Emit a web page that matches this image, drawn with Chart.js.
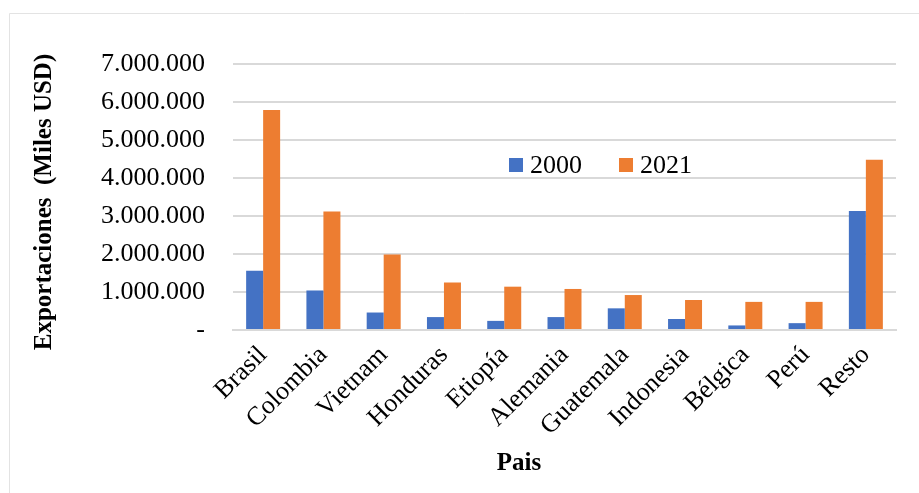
<!DOCTYPE html>
<html>
<head>
<meta charset="utf-8">
<script src="https://cdn.jsdelivr.net/npm/chart.js@4/dist/chart.umd.min.js"></script>
<style>
	body { margin: 0; background: #ffffff; }
	#wrap { position: relative; width: 919px; height: 493px; }
</style>
</head>
<body>
<div id="wrap"><canvas id="barras" width="919" height="493"></canvas></div>
<script>
// datos (Miles USD)
var paises = ["Brasil", "Colombia", "Vietnam", "Honduras", "Etiopía", "Alemania", "Guatemala", "Indonesia", "Bélgica", "Perú", "Resto"];
var valores2000 = [1560000, 1040000, 460000, 340000, 240000, 340000, 570000, 290000, 120000, 180000, 3130000];
var valores2021 = [5790000, 3120000, 1990000, 1250000, 1140000, 1080000, 920000, 790000, 740000, 740000, 4480000];
var series = ["2000", "2021"];
var colores = ["#4472C4", "#ED7D31"];
var ticksY = [0, 1000000, 2000000, 3000000, 4000000, 5000000, 6000000, 7000000];

var fuente = "'Liberation Serif', 'Times New Roman', serif";

function formato(v) {
	if (v === 0) return "-";
	return v.toString().replace(/\B(?=(\d{3})+(?!\d))/g, ".");
}

// marco, titulos de ejes y leyenda
var extras = {
	id: "extras",
	beforeDraw: function (chart) {
		var ctx = chart.ctx;
		ctx.save();
		ctx.fillStyle = "#ffffff";
		ctx.fillRect(0, 0, chart.width, chart.height);
		ctx.strokeStyle = "#e3e3e3";
		ctx.lineWidth = 1;
		ctx.beginPath();
		ctx.moveTo(9.5, chart.height);
		ctx.lineTo(9.5, 13.5);
		ctx.lineTo(chart.width, 13.5);
		ctx.stroke();
		ctx.restore();
	},
	afterDraw: function (chart) {
		var ctx = chart.ctx;
		ctx.save();
		ctx.fillStyle = "#000000";
		ctx.font = "bold 25px " + fuente;
		ctx.textAlign = "center";
		ctx.textBaseline = "middle";
		ctx.fillText("Pais", 519, 464);
		ctx.translate(45, 202);
		ctx.rotate(-Math.PI / 2);
		ctx.fillText("Exportaciones  (Miles USD)", 0, 0);
		ctx.restore();

		// leyenda
		ctx.save();
		ctx.font = "26px " + fuente;
		ctx.textBaseline = "middle";
		var xs = [509, 619];
		for (var i = 0; i < series.length; i++) {
			ctx.fillStyle = colores[i];
			ctx.fillRect(xs[i], 158, 14, 14);
			ctx.fillStyle = "#000000";
			ctx.fillText(series[i], xs[i] + 21, 166);
		}
		ctx.restore();
	}
};

var ctxa = document.getElementById("barras").getContext("2d");

var grafico = new Chart(ctxa, {
	type: "bar",
	data: {
		labels: paises,
		datasets: [
			{
				label: series[0],
				data: valores2000,
				backgroundColor: colores[0],
				borderWidth: 0
			},
			{
				label: series[1],
				data: valores2021,
				backgroundColor: colores[1],
				borderWidth: 0
			}
		]
	},
	options: {
		responsive: false,
		animation: false,
		maintainAspectRatio: false,
		layout: {
			padding: { top: 64, right: 23, left: 0, bottom: 0 }
		},
		datasets: {
			bar: { categoryPercentage: 0.564, barPercentage: 1.0 }
		},
		plugins: {
			legend: { display: false },
			tooltip: { enabled: false }
		},
		scales: {
			x: {
				grid: { display: false },
				border: { color: "#d9d9d9", width: 2 },
				ticks: {
					color: "#000000",
					font: { family: fuente, size: 26 },
					minRotation: 45,
					maxRotation: 45,
					padding: 2
				},
				afterFit: function (scale) { scale.height = 163; }
			},
			y: {
				min: 0,
				max: 7000000,
				afterBuildTicks: function (scale) {
					scale.ticks = ticksY.map(function (v) { return { value: v }; });
				},
				grid: { color: "#d9d9d9", lineWidth: 2, drawTicks: false },
				border: { display: false },
				ticks: {
					color: "#000000",
					font: { family: fuente, size: 26 },
					padding: 28,
					callback: function (v) { return formato(v); }
				},
				afterFit: function (scale) { scale.width = 233; }
			}
		}
	},
	plugins: [extras]
});
</script>
</body>
</html>
